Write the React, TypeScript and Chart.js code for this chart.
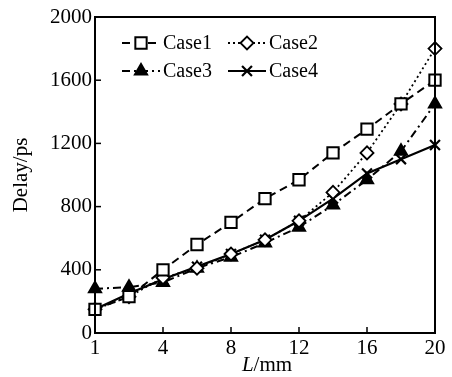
import React, { useEffect, useRef } from "react";
import { Chart, registerables } from "chart.js";
import { drawPoint } from "chart.js/helpers";

Chart.register(...registerables);

const categories = ["1", "2", "4", "6", "8", "10", "12", "14", "16", "18", "20"];
const case1 = [150, 230, 400, 560, 700, 850, 970, 1140, 1290, 1450, 1600];
const case2 = [150, 230, 350, 410, 500, 590, 710, 890, 1140, 1450, 1800];
const case3 = [280, 290, 320, 410, 480, 570, 670, 810, 970, 1150, 1450];
const case4 = [150, 250, 340, 420, 500, 590, 710, 850, 1010, 1100, 1190];
const seriesNames = ["Case1", "Case2", "Case3", "Case4"];
const yTicks = [0, 400, 800, 1200, 1600, 2000];

const FONT = "'Liberation Serif', 'Times New Roman', serif";

const styles = [
  { dash: [8, 5], pointStyle: "rect", radius: 8, fill: "#fff", width: 2 },
  { dash: [2, 3], pointStyle: "rectRot", radius: 6.5, fill: "#fff", width: 1.8 },
  { dash: [8, 4, 2, 4], pointStyle: "triangle", radius: 7, fill: "#000", width: 2 },
  { dash: [], pointStyle: "crossRot", radius: 7, fill: "#000", width: 2.2 },
];

const framePlugin = {
  id: "frame",
  afterDraw(chart: any) {
    const { ctx, chartArea: a, scales } = chart;
    ctx.save();
    ctx.strokeStyle = "#000";
    ctx.lineWidth = 2;
    ctx.setLineDash([]);
    ctx.strokeRect(a.left, a.top, a.right - a.left, a.bottom - a.top);
    // inward tick marks
    const xs = scales.x;
    ctx.lineWidth = 1.5;
    for (let i = 2; i < categories.length - 1; i += 2) {
      const px = xs.getPixelForTick(i);
      ctx.beginPath();
      ctx.moveTo(px, a.bottom);
      ctx.lineTo(px, a.bottom - 6);
      ctx.stroke();
    }
    const ys = scales.y;
    for (let i = 1; i < yTicks.length - 1; i++) {
      const py = ys.getPixelForValue(yTicks[i]);
      ctx.beginPath();
      ctx.moveTo(a.left, py);
      ctx.lineTo(a.left + 6, py);
      ctx.stroke();
    }
    // x title with italic L
    ctx.fillStyle = "#000";
    ctx.textBaseline = "middle";
    ctx.font = `italic 21px ${FONT}`;
    const t1 = "L";
    const t2 = "/mm";
    const w1 = ctx.measureText(t1).width;
    ctx.font = `21px ${FONT}`;
    const w2 = ctx.measureText(t2).width;
    const cx = (a.left + a.right) / 2 + 2;
    const startX = cx - (w1 + w2) / 2;
    ctx.font = `italic 21px ${FONT}`;
    ctx.textAlign = "left";
    ctx.fillText(t1, startX, 365);
    ctx.font = `21px ${FONT}`;
    ctx.fillText(t2, startX + w1, 365);

    // legend
    const colX = [a.left + 27, a.left + 133];
    const rowY = [a.top + 26, a.top + 54];
    chart.data.datasets.forEach((ds: any, i: number) => {
      const st = styles[i];
      const x0 = colX[i % 2];
      const y0 = rowY[Math.floor(i / 2)];
      ctx.strokeStyle = "#000";
      ctx.lineWidth = st.width;
      ctx.setLineDash(st.dash);
      ctx.beginPath();
      ctx.moveTo(x0, y0);
      ctx.lineTo(x0 + 38, y0);
      ctx.stroke();
      ctx.setLineDash([]);
      ctx.fillStyle = st.fill;
      ctx.strokeStyle = "#000";
      ctx.lineWidth = st.width;
      drawPoint(ctx, { pointStyle: st.pointStyle, radius: st.radius, rotation: 0, borderWidth: st.width } as any, x0 + 19, y0);
      ctx.fillStyle = "#000";
      ctx.font = `20px ${FONT}`;
      ctx.textAlign = "left";
      ctx.textBaseline = "middle";
      ctx.fillText(ds.label, x0 + 41, y0 + 1);
    });
    ctx.restore();
  },
};

export default function App() {
  const ref = useRef<HTMLCanvasElement>(null);
  useEffect(() => {
    const all = [case1, case2, case3, case4];
    const chart = new Chart(ref.current as HTMLCanvasElement, {
      type: "line",
      data: {
        labels: categories,
        datasets: all.map((d, i) => ({
          label: seriesNames[i],
          data: d,
          borderColor: "#000",
          borderWidth: styles[i].width,
          borderDash: styles[i].dash,
          pointStyle: styles[i].pointStyle as any,
          pointRadius: styles[i].radius,
          pointBackgroundColor: styles[i].fill,
          pointBorderColor: "#000",
          pointBorderWidth: styles[i].width,
          tension: 0,
          fill: false,
        })),
      },
      options: {
        animation: false,
        responsive: false,
        devicePixelRatio: 1,
        layout: { padding: { top: 17, right: 17, bottom: 0, left: 0 } },
        plugins: { legend: { display: false }, tooltip: { enabled: false } },
        scales: {
          x: {
            type: "category",
            offset: false,
            grid: { display: false, drawTicks: false },
            border: { display: false },
            ticks: {
              autoSkip: false,
              maxRotation: 0,
              padding: 3,
              color: "#000",
              font: { family: FONT, size: 21 },
              callback: (_v: any, i: number) => (i % 2 === 0 ? categories[i] : ""),
            },
            afterFit: (s: any) => {
              s.height = 44;
            },
          },
          y: {
            min: 0,
            max: 2000,
            grid: { display: false, drawTicks: false },
            border: { display: false },
            afterBuildTicks: (s: any) => {
              s.ticks = yTicks.map((v) => ({ value: v }));
            },
            ticks: {
              padding: 3,
              color: "#000",
              font: { family: FONT, size: 21 },
              callback: (v: any) => String(v),
            },
            title: {
              display: true,
              text: "Delay/ps",
              color: "#000",
              font: { family: FONT, size: 21 },
              padding: { top: 9, bottom: 0 },
            },
            afterFit: (s: any) => {
              s.width = 95;
            },
          },
        },
      },
      plugins: [framePlugin],
    });
    return () => chart.destroy();
  }, []);
  return (
    <div style={{ position: "fixed", left: 0, top: 0, width: 452, height: 377, background: "#fff" }}>
      <canvas ref={ref} width={452} height={377} />
    </div>
  );
}
